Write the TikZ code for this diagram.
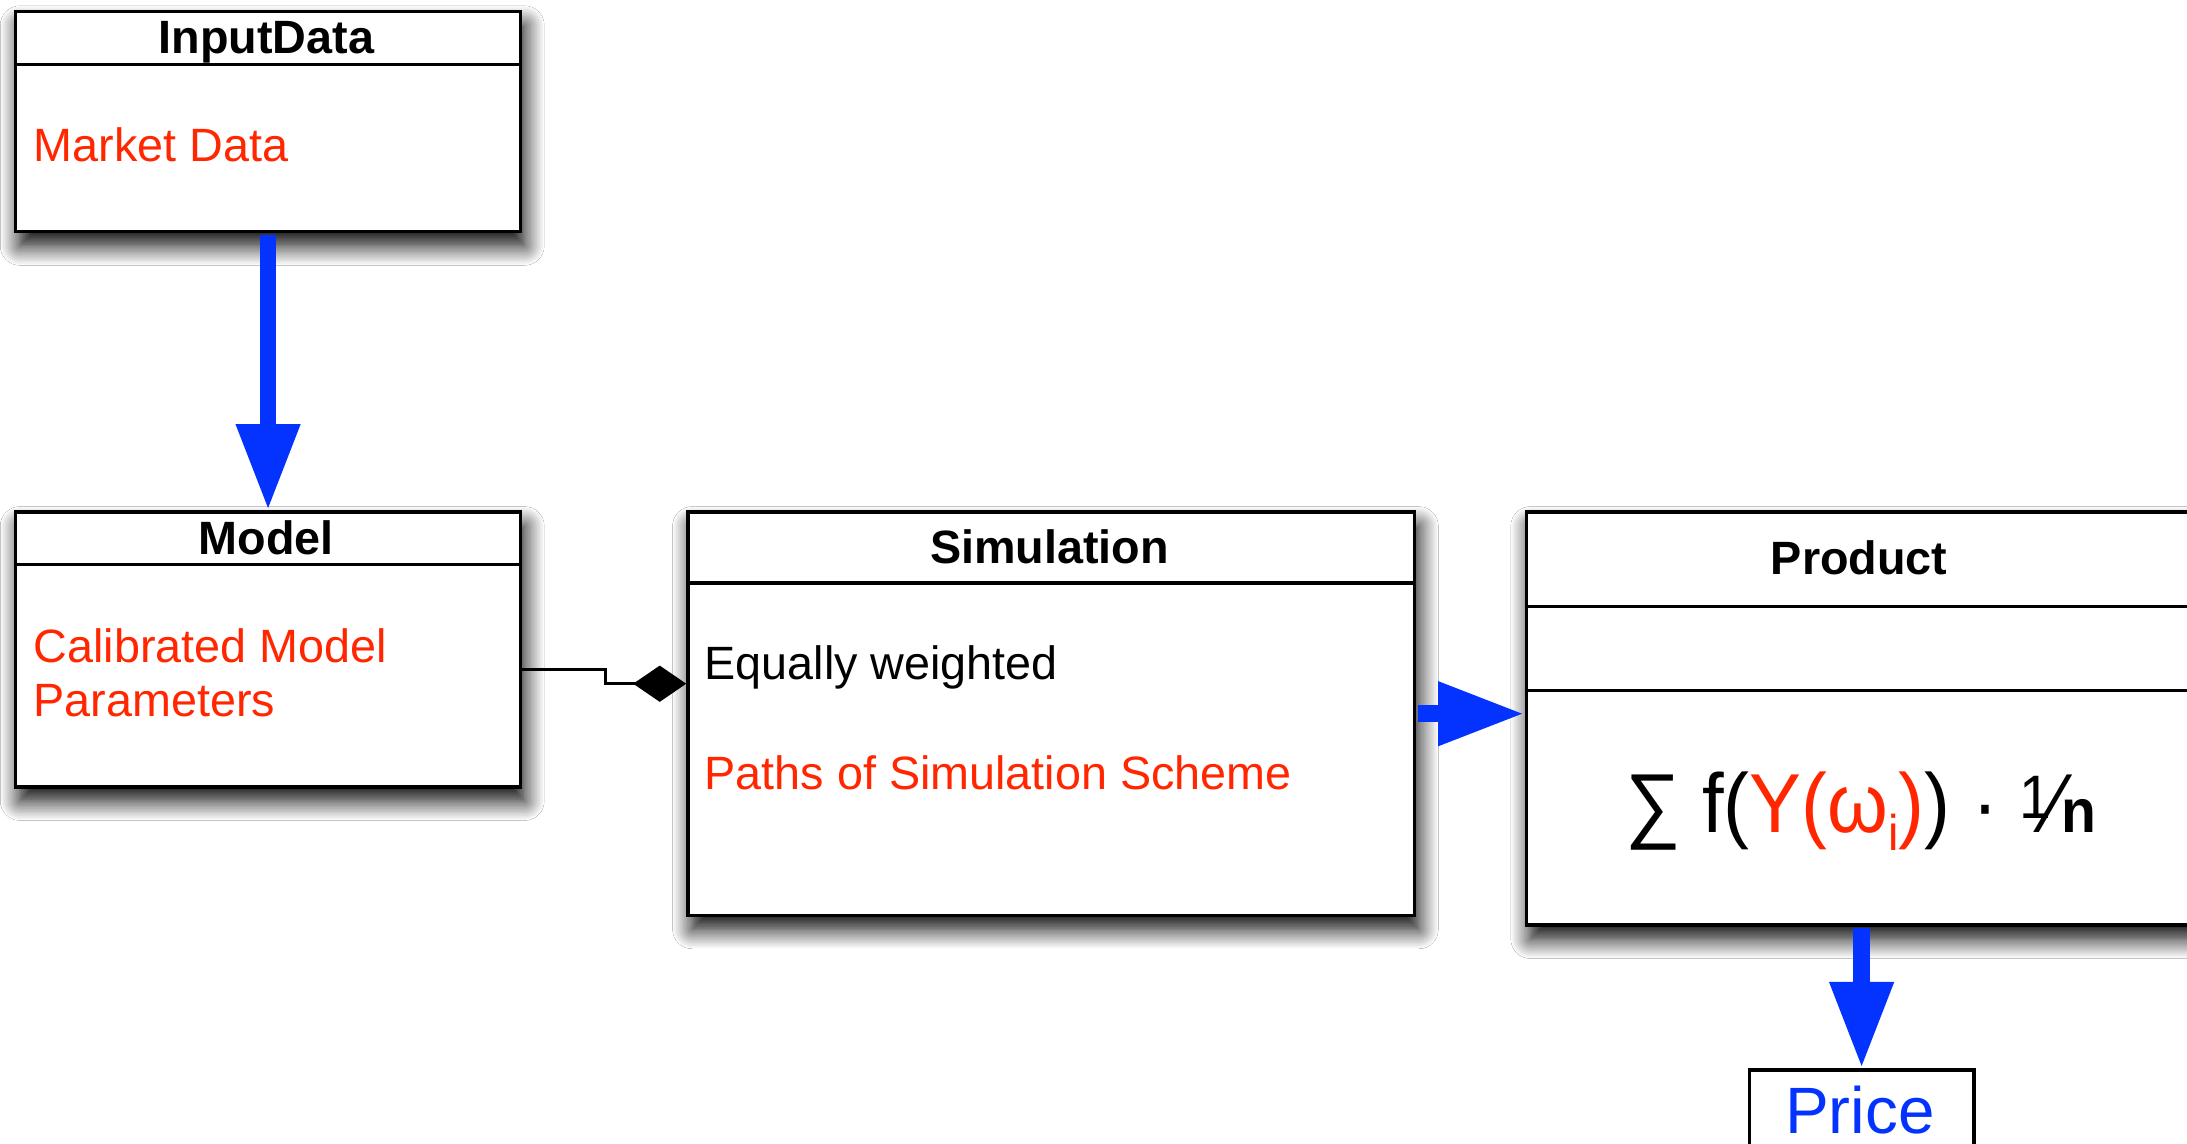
\documentclass[tikz,border=0pt]{standalone}
\usepackage{fontspec}
\setmainfont{Liberation Sans}
\usetikzlibrary{arrows.meta,shadows.blur,calc}
\definecolor{ared}{RGB}{255,38,0}
\definecolor{ablue}{RGB}{4,51,255}
\begin{document}
\begin{tikzpicture}[x=1pt,y=-1pt,
  box/.style={draw=black, line width=2.4pt, fill=white, rectangle, inner sep=0pt, anchor=north west,
    blur shadow={shadow xshift=3pt, shadow yshift=-10pt, shadow blur radius=14pt, shadow opacity=100, shadow blur steps=14}},
  plainbox/.style={draw=black, line width=2.4pt, fill=white, rectangle, inner sep=0pt, anchor=north west},
  titletext/.style={anchor=base, inner sep=0pt, font=\fontsize{33.5}{40}\selectfont\bfseries},
  bodytext/.style={anchor=base west, inner sep=0pt, font=\fontsize{33.5}{40}\selectfont},
  divider/.style={line width=2.2pt},
  blockarrow/.style={draw=ablue, line width=12pt, -{Triangle[length=62pt,width=43pt]}},
  conn/.style={draw=black, line width=2.2pt, -{Diamond[length=38pt,width=26pt]}},
]
\useasboundingbox (0,0) rectangle (1568,820);
\clip (0,0) rectangle (1568,820);
\fill[white] (0,0) rectangle (1568,820);

% boxes
\node[box, minimum width=362pt, minimum height=158pt] (input) at (10,7) {};
\node[box, minimum width=362pt, minimum height=197pt] (model) at (10,366) {};
\node[box, minimum width=521pt, minimum height=289pt] (sim) at (492,366) {};
\node[box, minimum width=482pt, minimum height=296pt] (product) at (1093,366) {};
\node[plainbox, minimum width=161pt, minimum height=70pt] (price) at (1253,766) {};

% dividers
\draw[divider] (input.west |- 0,46) -- (input.east |- 0,46);
\draw[divider] (model.west |- 0,405) -- (model.east |- 0,405);
\draw[divider] (sim.west |- 0,418) -- (sim.east |- 0,418);
\draw[divider] (product.west |- 0,435) -- (product.east |- 0,435);
\draw[divider] (product.west |- 0,495) -- (product.east |- 0,495);

% titles
\node[titletext] (inputT) at (191,38.5) {InputData};
\node[titletext] (modelT) at (191,397.5) {Model};
\node[titletext] (simT) at (752.5,404) {Simulation};
\node[titletext] (productT) at (1333,412) {Product};

% bodies
\node[bodytext, text=ared] (mkt) at (24,116) {Market Data};
\node[bodytext, text=ared] (cal) at (24,475) {Calibrated Model};
\node[bodytext, text=ared] (par) at (24,514) {Parameters};
\node[bodytext] (eqw) at (505,487) {Equally weighted};
\node[bodytext, text=ared] (paths) at (505,566) {Paths of Simulation Scheme};
\node[anchor=base, inner sep=0pt, font=\fontsize{60}{70}\selectfont] (formula) at (1334,597)
  {\scalebox{0.93}[1]{∑ f(\textcolor{ared}{Y(ω\raisebox{-0.21em}{\fontsize{36}{36}\selectfont i})}) · \raisebox{0.17em}{\fontsize{44}{44}\selectfont 1}\kern-0.02em⁄\kern-0.02em{\fontsize{44}{44}\selectfont\bfseries n}}};
\node[anchor=base, inner sep=0pt, font=\fontsize{47}{50}\selectfont, text=ablue] (priceT) at (1333.5,813) {Price};

% connectors
\draw[blockarrow, shorten <=1.2pt] (input.south) -- (model.north);
\draw[blockarrow, shorten <=1.2pt] (sim.east) -- (sim.east -| product.west);
\draw[blockarrow, shorten <=1.2pt] (product.south -| price.north) -- (price.north);
\draw[conn] ([yshift=-14.5pt]model.east) -- ++(60,0) -- ++(0,10) -- ([yshift=21.5pt]sim.west);
\end{tikzpicture}
\end{document}
